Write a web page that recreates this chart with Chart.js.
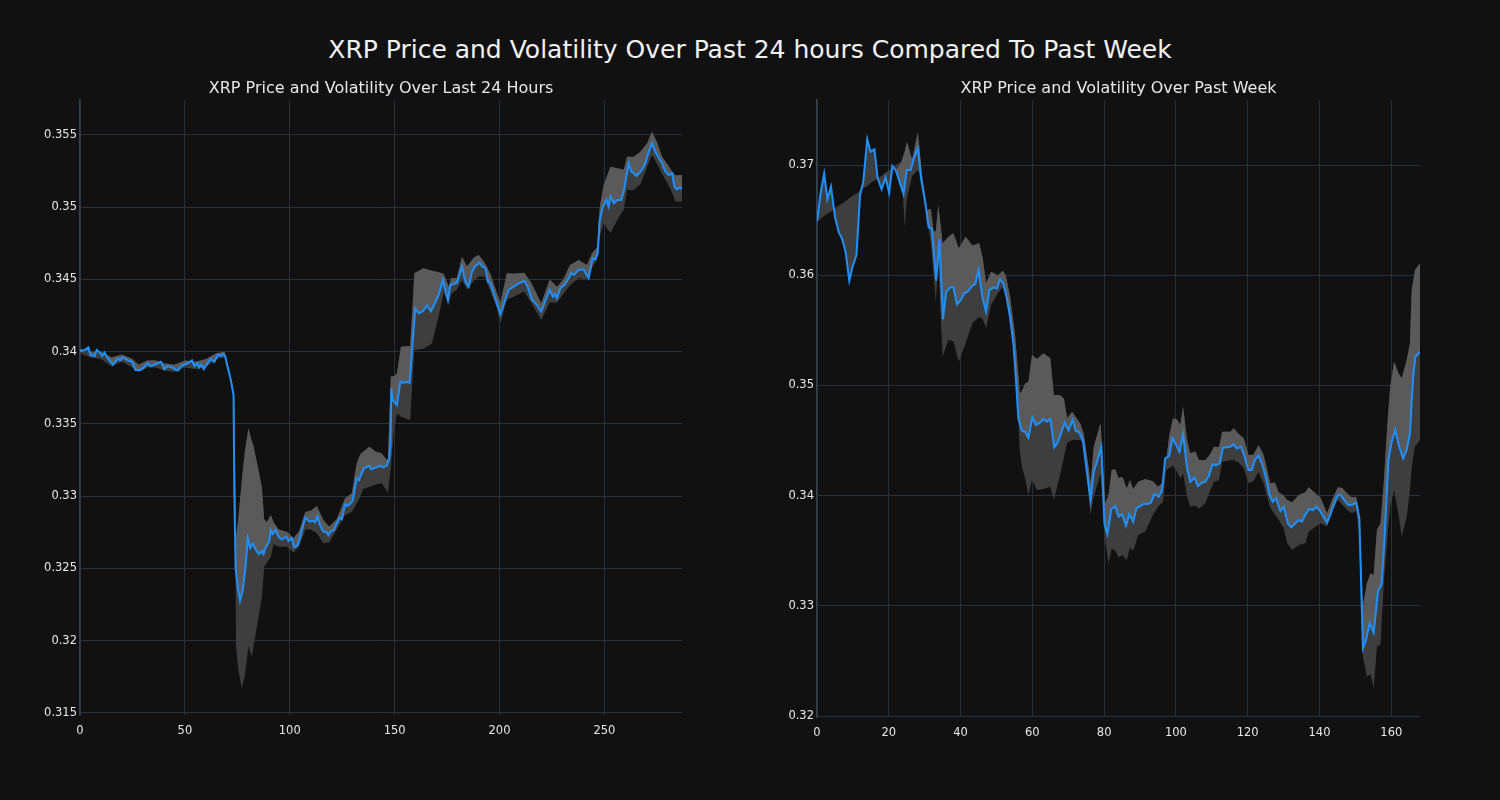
<!DOCTYPE html>
<html>
<head>
<meta charset="utf-8">
<script src="https://cdn.jsdelivr.net/npm/chart.js@4.4.1/dist/chart.umd.min.js"></script>
<style>
  html, body { margin:0; padding:0; background:#111111; }
  #wrap { position:relative; width:1500px; height:800px; background:#111111; overflow:hidden; }
  #mainTitle { position:absolute; left:0; top:34px; width:1500px; text-align:center; color:#f2f2f2;
    font-family:'DejaVu Sans', sans-serif; font-size:25px; line-height:32px; }
  canvas { position:absolute; top:0; }
</style>
</head>
<body>
<div id="wrap">
  <div id="mainTitle">XRP Price and Volatility Over Past 24 hours Compared To Past Week</div>
  <canvas id="c1" width="750" height="800" style="left:0px"></canvas>
  <canvas id="c2" width="750" height="800" style="left:750px"></canvas>
</div>
<script>
// ---------- titles ----------
const leftTitle = "XRP Price and Volatility Over Last 24 Hours";
const rightTitle = "XRP Price and Volatility Over Past Week";

// ---------- tick labels ----------
const leftXTicks = [0, 50, 100, 150, 200, 250];
const leftXTickLabels = ["0", "50", "100", "150", "200", "250"];
const leftYTicks = [0.315, 0.32, 0.325, 0.33, 0.335, 0.34, 0.345, 0.35, 0.355];
const leftYTickLabels = ["0.315", "0.32", "0.325", "0.33", "0.335", "0.34", "0.345", "0.35", "0.355"];
const rightXTicks = [0, 20, 40, 60, 80, 100, 120, 140, 160];
const rightXTickLabels = ["0", "20", "40", "60", "80", "100", "120", "140", "160"];
const rightYTicks = [0.32, 0.33, 0.34, 0.35, 0.36, 0.37];
const rightYTickLabels = ["0.32", "0.33", "0.34", "0.35", "0.36", "0.37"];

// ---------- left chart: last 24 hours (price) ----------
const leftX = [0,2,4,5,7,8,9,10.6,11.7,12.9,15.7,18,19.2,20.3,22.7,24.8,26.4,28.8,30.4,32.3,33.6,35.5,37.1,38.6,40.2,41.8,43.9,45,46.7,48.3,51.4,53.4,54.5,55.9,56.8,57.8,59,60.8,62.4,64,65.9,67.3,68.1,69.2,70.3,71.9,73.2,73.6,74.2,75.2,76.3,77.6,78.9,80,81.1,82.4,84.3,85.4,86.7,87.5,88.3,90.2,91,91.9,93.2,94.6,96.2,98.3,99.4,101,102.1,103.7,105,107.4,109.4,111.3,112.1,113.2,114.4,116,117.6,118.4,119.5,121.1,122.4,123.7,124.8,126.4,127.5,128.8,130,131.9,133,134.3,135.4,138,138.8,140,141.4,143,144.5,146.3,147.4,148,148.4,149,151.1,152.7,153.8,155.9,157.1,158,159.8,161.4,163.6,165.4,167.3,168.9,171,173,175.4,176.5,179.7,182.1,183.7,185.3,186.9,188.5,190.6,191.7,193.3,194.5,195.6,197.2,200.4,202,204.3,206.7,209.4,211.8,213.4,215.5,217.2,219.9,222.3,223.9,225.5,226.5,227.4,229,231,233,234.1,235.5,237.7,240,242.5,244.4,245.7,246.8,247.8,249.3,251,252,252.9,254.5,256.1,258,259.2,261.6,262.8,264,265.3,266.5,268.4,269.5,270.7,272.7,274.3,276,277.5,279.1,280.7,282.3,283.4,284.6,285.9,287];
const leftPrice = [0.34005,0.3401,0.3403,0.33978,0.3397,0.34012,0.34,0.3397,0.33995,0.3396,0.3391,0.33952,0.3394,0.3396,0.3394,0.3393,0.33874,0.33874,0.3389,0.3392,0.339,0.3391,0.3392,0.3393,0.3388,0.339,0.3389,0.3388,0.3387,0.339,0.3392,0.3394,0.339,0.3392,0.3389,0.3391,0.3388,0.3392,0.3395,0.3393,0.3398,0.3397,0.33985,0.3397,0.339,0.33805,0.3370,0.3300,0.3250,0.3237,0.32278,0.32351,0.3251,0.32709,0.3264,0.3267,0.32617,0.326,0.3262,0.326,0.3264,0.32686,0.32766,0.3274,0.32766,0.3272,0.327,0.3272,0.3269,0.3271,0.32645,0.3266,0.3272,0.32852,0.32825,0.3283,0.3282,0.32859,0.328,0.32755,0.3275,0.3273,0.32755,0.32766,0.3281,0.3285,0.3284,0.32944,0.32933,0.32947,0.3297,0.33124,0.3311,0.33159,0.33193,0.3321,0.33186,0.33193,0.332,0.33212,0.332,0.33212,0.33263,0.3335,0.33747,0.33666,0.33631,0.33793,0.33786,0.3379,0.33786,0.3395,0.343,0.34266,0.34282,0.3432,0.3428,0.34327,0.34393,0.34497,0.34358,0.3446,0.34478,0.34589,0.34485,0.3445,0.34555,0.34593,0.34616,0.3459,0.3458,0.34485,0.34475,0.34404,0.34261,0.34327,0.34427,0.3445,0.34474,0.3449,0.3445,0.34358,0.34335,0.34277,0.3437,0.34427,0.3438,0.34398,0.3437,0.3444,0.34463,0.34508,0.34543,0.34532,0.34566,0.3457,0.34508,0.34647,0.3464,0.3468,0.34912,0.35004,0.3505,0.35004,0.35073,0.35027,0.3505,0.3505,0.35108,0.35304,0.35246,0.35235,0.35216,0.35235,0.3527,0.35304,0.35362,0.35443,0.35384,0.35339,0.35304,0.35246,0.35223,0.35235,0.35142,0.35124,0.35138,0.35124];

// left volatility band
const leftBandX = [0,5,10,15,20,25,28,32,36,40,45,50,55,60,65,69,71.9,73.5,74.4,75.5,77.1,78.5,80.3,81.9,82.7,85.1,86.7,87.8,89.1,91,92.3,94.6,98.6,101.8,104.5,107.4,110,112.9,116,118.8,122.4,126.4,129.6,131.9,133.6,135,138,140.8,143.7,146.3,146.8,148.2,149.5,151.1,153,157.4,158.5,159.4,163.8,167.8,171,173.4,175.8,177,179.7,182.1,184.5,187.7,190.1,192.8,195.6,198.8,200.4,203.5,206.7,211.8,215,219.9,223.9,227.4,230.4,233.6,237.7,241.7,244.1,246.5,247.8,249.6,252.9,256.1,259.2,260.8,264,267.3,270.4,272.7,275.1,277.5,279.9,282.3,283.9,287];
const leftUpper = [0.3402,0.34,0.34,0.3396,0.3398,0.3395,0.3391,0.3394,0.3394,0.3392,0.3391,0.3394,0.3393,0.3395,0.3399,0.34,0.3382,0.337,0.3272,0.3285,0.331,0.333,0.3347,0.3338,0.3335,0.3318,0.3306,0.3284,0.3282,0.3287,0.3282,0.3277,0.32755,0.3271,0.3276,0.3289,0.329,0.32933,0.32836,0.3279,0.3284,0.32986,0.3302,0.33228,0.3329,0.33308,0.33343,0.3331,0.33297,0.33251,0.3326,0.33828,0.3383,0.3385,0.34035,0.3404,0.343,0.34543,0.34578,0.3456,0.3455,0.3454,0.3445,0.3451,0.34508,0.34658,0.3459,0.3465,0.3467,0.3462,0.3454,0.34404,0.3434,0.34543,0.3454,0.34547,0.3448,0.34335,0.345,0.3445,0.345,0.346,0.34635,0.346,0.34681,0.3472,0.35,0.3515,0.3528,0.3527,0.3526,0.3535,0.3535,0.35385,0.35443,0.35523,0.3545,0.3535,0.353,0.35246,0.3522,0.35223];
const leftLower = [0.3399,0.3396,0.3395,0.339,0.3393,0.3389,0.3386,0.3389,0.3389,0.3387,0.3386,0.3389,0.3388,0.3389,0.3395,0.3396,0.3379,0.3368,0.3196,0.318,0.3167,0.3175,0.3196,0.3189,0.3196,0.3216,0.323,0.3251,0.3254,0.3258,0.3267,0.3265,0.3265,0.3261,0.3265,0.3277,0.3277,0.32744,0.32674,0.3268,0.3277,0.3287,0.3289,0.3295,0.32997,0.3305,0.33066,0.3308,0.3309,0.3304,0.3302,0.332,0.33436,0.33574,0.3355,0.33528,0.338,0.34012,0.3402,0.34058,0.34243,0.3441,0.3433,0.344,0.3443,0.34497,0.3443,0.3449,0.3452,0.3452,0.3442,0.343,0.34197,0.3436,0.34381,0.34416,0.3434,0.3422,0.3434,0.3434,0.344,0.3446,0.3451,0.345,0.3458,0.3464,0.34796,0.34889,0.3482,0.34912,0.34981,0.3512,0.3512,0.3516,0.3528,0.35362,0.353,0.3523,0.3517,0.351,0.35038,0.3504];

// ---------- right chart: past week (price) ----------
const rightX = [0,1,2,2.9,3.9,5,6.1,7,8,9,9.9,11,12,12.9,14,14.9,16,16.9,18,19.1,20.1,21,22,24.1,25,26.1,27,28.1,29,30.2,31.1,32,33.2,34.1,35.1,36,37.2,38,39,40.1,41,42,43.2,44.1,45,46.1,47.1,48,49.2,50.1,51,51.9,52.9,53.8,54.8,55.5,56.1,57.1,58,58.9,60,61,62,63.1,64,65,66.1,67,68,69,70.1,71.2,72.1,73.1,74.1,75,76.2,77.1,78,79.2,80.1,80.9,82,83.1,84,85,86.1,87,88.1,89,90.1,91,92.1,93,94,95.2,96.1,97,98.1,99,100.1,101,102,103.1,104,105.2,106.1,107.3,108.2,109.1,110.2,111.1,112.2,113.1,114.2,115.1,116.1,117,118.1,119,120.2,121.1,122,123,124.1,125,126.1,127,127.9,129.1,130,131.2,132.1,133,134.2,135.1,136,137.2,138.2,139.1,140,141.1,142.1,143,144.1,145.1,146,147.2,148.1,149,150.2,151.1,152.1,153,154,155.1,156.3,157.3,158.1,159.2,160.1,161.1,162.2,163.3,164.3,165.2,165.7,166.1,166.7,168];
const rightPrice = [0.36486,0.36743,0.36924,0.36689,0.36803,0.36531,0.36386,0.36335,0.36205,0.3595,0.36077,0.36183,0.36728,0.36849,0.37233,0.37121,0.37142,0.36879,0.3678,0.36888,0.36749,0.36991,0.36948,0.36737,0.36955,0.36955,0.37061,0.37151,0.36879,0.36652,0.36435,0.36417,0.3595,0.36326,0.356,0.3585,0.3589,0.3589,0.35736,0.35775,0.35836,0.3585,0.35902,0.3592,0.36047,0.358,0.35669,0.35866,0.3589,0.3588,0.35963,0.35926,0.3579,0.35623,0.35351,0.35019,0.34701,0.34586,0.3458,0.34525,0.3471,0.34641,0.3466,0.34695,0.3467,0.34695,0.34438,0.3448,0.34565,0.34662,0.3459,0.34686,0.34586,0.34574,0.34498,0.34262,0.3396,0.34217,0.34308,0.34444,0.3374,0.33652,0.33876,0.33906,0.33809,0.3383,0.33727,0.33833,0.33763,0.33885,0.33906,0.33924,0.33924,0.33936,0.34015,0.3399,0.34044,0.34338,0.34359,0.3452,0.34459,0.34398,0.34556,0.34248,0.34126,0.34163,0.34087,0.34117,0.34126,0.34172,0.34284,0.34275,0.34293,0.34435,0.34438,0.34444,0.34465,0.34426,0.34444,0.34368,0.34232,0.34232,0.34323,0.34362,0.34278,0.34172,0.34005,0.33945,0.33975,0.3386,0.33899,0.33749,0.33712,0.3374,0.33779,0.33763,0.33824,0.33881,0.33869,0.33899,0.33869,0.33809,0.33754,0.33824,0.3393,0.34005,0.34,0.33945,0.33915,0.33915,0.33936,0.33794,0.32614,0.32696,0.32841,0.32756,0.33134,0.33195,0.33597,0.34323,0.34489,0.34595,0.34444,0.34338,0.34414,0.34565,0.34868,0.35079,0.3526,0.35306];

// right volatility band
const rightBandX = [0,1,2,3,4,5,6,8,9,10,11,12,13,14,15,16,17,18,19,20,21,22,23.5,24.4,25.1,26.5,28.1,29.3,30.7,31.7,32.5,33.1,33.8,35,36.6,38,39.5,41.4,43.3,45.2,46.2,47.1,48.5,50.4,51.8,52.6,53.8,55.2,56.5,57.1,58,58.9,59.9,61.3,63.1,65,66,67.8,68.8,69.7,71.1,73.3,74.3,75.7,76.2,77.1,79,80.3,81.2,82.1,83.1,84,85.1,86.3,87.2,88.1,89.5,91.4,93.6,95,96.4,97.3,98.1,99.2,100.3,101.2,102,103.1,104,105.4,106.4,108.2,109.6,110.6,112,112.9,115.2,116.1,117.5,118.9,120.2,121.6,123,124.4,126.3,127.6,128.6,130,131,132.4,134.2,136.1,137,138.9,140.3,142.1,143.5,145.1,146.3,147.7,149,150.2,151,152.1,153.2,154.2,155.1,156,157,157.9,159,159.7,160.8,162,162.9,164.3,165.2,165.7,166.6,168];
const rightUpper = [0.3649,0.3674,0.3692,0.3669,0.368,0.3653,0.3639,0.3621,0.3595,0.3608,0.3618,0.3673,0.3685,0.3723,0.3712,0.3714,0.3688,0.3678,0.3689,0.3675,0.3699,0.3695,0.3703,0.3712,0.3721,0.3705,0.373,0.369,0.36592,0.366,0.364,0.364,0.36637,0.3629,0.3635,0.3638,0.36244,0.3635,0.3627,0.3629,0.3615,0.35926,0.36032,0.36,0.3604,0.36,0.358,0.3545,0.34928,0.3495,0.35019,0.3503,0.35276,0.3524,0.35291,0.35246,0.34913,0.3491,0.3488,0.34701,0.34761,0.34656,0.34565,0.3425,0.34112,0.34444,0.34656,0.3393,0.34,0.34232,0.3424,0.3416,0.3417,0.34066,0.3414,0.3406,0.34126,0.3415,0.3413,0.34081,0.3412,0.3432,0.34535,0.34701,0.3469,0.34641,0.34807,0.34505,0.34384,0.344,0.34323,0.3432,0.3438,0.34444,0.3444,0.3458,0.3458,0.34611,0.3456,0.3452,0.34368,0.3437,0.34459,0.3437,0.34112,0.3412,0.3403,0.34,0.3396,0.3394,0.34005,0.3403,0.34075,0.3402,0.3398,0.3384,0.3396,0.34075,0.3407,0.3402,0.33984,0.3399,0.3387,0.33,0.33204,0.33295,0.3328,0.33688,0.3375,0.34112,0.34686,0.34988,0.35215,0.3511,0.35064,0.3523,0.35382,0.35866,0.36047,0.36108];
const rightLower = [0.3649,0.3651,0.3654,0.3656,0.3658,0.3661,0.3663,0.3667,0.3670,0.3672,0.3674,0.3677,0.3679,0.3681,0.3684,0.3686,0.3688,0.3690,0.3693,0.3695,0.3697,0.3700,0.3703,0.3644,0.3671,0.369,0.36955,0.3688,0.36516,0.363,0.36,0.3576,0.361,0.3526,0.35412,0.354,0.35215,0.35382,0.35563,0.35623,0.356,0.35518,0.3573,0.35836,0.35896,0.358,0.3555,0.35291,0.344,0.34262,0.3415,0.34005,0.34142,0.34051,0.3406,0.3408,0.3396,0.342,0.34353,0.3448,0.34505,0.34505,0.3447,0.34,0.33824,0.3399,0.342,0.33597,0.33386,0.3352,0.335,0.3344,0.3346,0.33416,0.3353,0.335,0.33642,0.33672,0.33824,0.339,0.33945,0.34232,0.3425,0.3427,0.34217,0.34157,0.342,0.3399,0.33899,0.3391,0.3388,0.3393,0.3405,0.34126,0.3414,0.34308,0.3432,0.3432,0.343,0.34248,0.34112,0.3413,0.34217,0.3411,0.3389,0.33824,0.3378,0.33703,0.33567,0.33506,0.33552,0.3357,0.33672,0.33718,0.3375,0.3372,0.33854,0.3396,0.3392,0.3387,0.3384,0.3386,0.33658,0.32538,0.32357,0.3238,0.32251,0.32629,0.3265,0.33204,0.33658,0.339,0.34051,0.3383,0.33627,0.33809,0.3405,0.34262,0.34444,0.34505];

// ---------- styling ----------
const LINE_COLOR = '#1e90ff';
const BAND_DARK = '#3e3e3e';
const BAND_LIGHT = '#5a5a5a';
const GRID_COLOR = '#28313c';
const AXIS_COLOR = '#34404e';
const TEXT_COLOR = '#e8e8e8';
const FONT = "'DejaVu Sans', sans-serif";

function pts(xs, ys) { return xs.map((x, i) => ({ x: x, y: ys[i] })); }

function makeChart(id, cfg) {
  const ctx = document.getElementById(id).getContext('2d');
  return new Chart(ctx, {
    type: 'line',
    data: {
      datasets: [
        { label: 'price', data: pts(cfg.x, cfg.price), borderColor: LINE_COLOR, borderWidth: 2,
          pointRadius: 0, tension: 0, fill: { target: 1, above: BAND_LIGHT, below: BAND_LIGHT } },
        { label: 'upper', data: pts(cfg.bandX, cfg.upper), borderWidth: 0, borderColor: 'rgba(0,0,0,0)',
          pointRadius: 0, tension: 0, fill: { target: 2, above: BAND_DARK, below: BAND_DARK } },
        { label: 'lower', data: pts(cfg.bandX, cfg.lower), borderWidth: 0, borderColor: 'rgba(0,0,0,0)',
          pointRadius: 0, tension: 0, fill: false }
      ]
    },
    options: {
      responsive: false,
      animation: false,
      devicePixelRatio: 1,
      layout: { padding: cfg.padding },
      plugins: {
        legend: { display: false },
        tooltip: { enabled: false },
        title: { display: true, text: cfg.title, color: TEXT_COLOR, fullSize: false,
          font: { family: FONT, size: 16, weight: 'normal', lineHeight: 1.2 },
          padding: { top: 9.4, bottom: 1.4 } }
      },
      scales: {
        x: {
          type: 'linear', min: cfg.xMin, max: cfg.xMax,
          afterBuildTicks: s => { s.ticks = cfg.xTicks.map(v => ({ value: v })); },
          afterFit: s => { s.height = 30; },
          ticks: { color: TEXT_COLOR, font: { family: FONT, size: 11.5 }, padding: 9,
            maxRotation: 0, autoSkip: false,
            callback: (v, i) => cfg.xLabels[i] },
          grid: { color: GRID_COLOR, lineWidth: 1, drawTicks: false },
          border: { display: false }
        },
        y: {
          type: 'linear', min: cfg.yMin, max: cfg.yMax,
          afterBuildTicks: s => { s.ticks = cfg.yTicks.map(v => ({ value: v })); },
          afterFit: s => { s.width = 50; },
          ticks: { color: TEXT_COLOR, font: { family: FONT, size: 11.5 }, padding: 3, autoSkip: false,
            callback: (v, i) => cfg.yLabels[i] },
          grid: { color: GRID_COLOR, lineWidth: 1, drawTicks: false },
          border: { display: true, color: AXIS_COLOR, width: 1.5 }
        }
      }
    }
  });
}

makeChart('c1', {
  title: leftTitle, x: leftX, price: leftPrice, bandX: leftBandX, upper: leftUpper, lower: leftLower,
  xMin: 0, xMax: 287, yMin: 0.31486, yMax: 0.35742,
  xTicks: leftXTicks, xLabels: leftXTickLabels, yTicks: leftYTicks, yLabels: leftYTickLabels,
  padding: { left: 30, right: 68, top: 70, bottom: 55 }
});
makeChart('c2', {
  title: rightTitle, x: rightX, price: rightPrice, bandX: rightBandX, upper: rightUpper, lower: rightLower,
  xMin: 0, xMax: 168, yMin: 0.31991, yMax: 0.3759,
  xTicks: rightXTicks, xLabels: rightXTickLabels, yTicks: rightYTicks, yLabels: rightYTickLabels,
  padding: { left: 17, right: 80, top: 70, bottom: 53 }
});
</script>
</body>
</html>
